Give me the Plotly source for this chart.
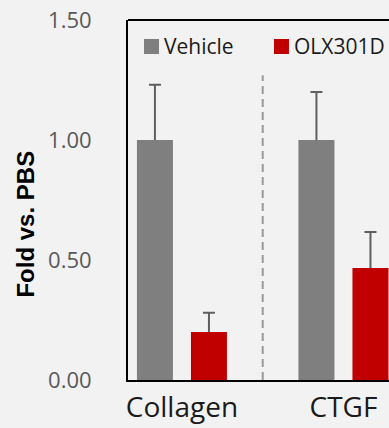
import plotly.graph_objects as go

# Relative expression, fold change vs. PBS
genes = ["Collagen", "CTGF"]
series_names = ["Vehicle", "OLX301D"]
vehicle = [1.00, 1.00]
vehicle_err = [0.23, 0.20]
olx301d = [0.20, 0.467]
olx301d_err = [0.08, 0.15]
y_ticks = [0.0, 0.5, 1.0, 1.5]
y_tick_text = ["0.00", "0.50", "1.00", "1.50"]

x_pos = list(range(len(genes)))

bg = "#f2f2f2"
colors = ["#7f7f7f", "#c00000"]
err_color = "#5f5f5f"

fig = go.Figure()

# Error bars go on transparent bars drawn first, so the solid bars drawn
# afterwards hide the lower half (only the upper whisker stays visible).
for name, vals, errs in [(series_names[0], vehicle, vehicle_err),
                         (series_names[1], olx301d, olx301d_err)]:
    fig.add_trace(go.Bar(
        x=x_pos, y=vals, offsetgroup=name, showlegend=False, hoverinfo="skip",
        marker=dict(color="rgba(0,0,0,0)", line_width=0),
        error_y=dict(type="data", array=errs, arrayminus=[0.03] * len(errs),
                     symmetric=False, color=err_color, thickness=2, width=6)))

for name, vals, col in [(series_names[0], vehicle, colors[0]),
                        (series_names[1], olx301d, colors[1])]:
    fig.add_trace(go.Bar(name=name, x=x_pos, y=vals, offsetgroup=name,
                         marker=dict(color=col, line_width=0), showlegend=False))

# dashed separator between the two gene groups
fig.add_shape(type="line", xref="x", yref="y", x0=0.5, x1=0.5, y0=0, y1=1.27,
              line=dict(color="#999999", width=2, dash="8px,5px"), layer="below")
# top frame line
fig.add_shape(type="line", xref="paper", yref="paper", x0=0, x1=1, y0=1, y1=1,
              line=dict(color="black", width=2))

# legend row: colour swatch + label
plot_w, plot_h = 261, 360
legend_x = [16, 146]  # swatch left edge, px from the plot's left edge
for name, col, lx in zip(series_names, colors, legend_x):
    fig.add_shape(type="rect", xref="paper", yref="paper",
                  x0=lx / plot_w, x1=(lx + 15) / plot_w,
                  y0=1 - 34 / plot_h, y1=1 - 19 / plot_h,
                  fillcolor=col, line_width=0)
    fig.add_annotation(text=name, showarrow=False, xref="paper", yref="paper",
                       x=(lx + 18) / plot_w, y=1 - 26.5 / plot_h,
                       xanchor="left", yanchor="middle",
                       font=dict(family="Open Sans", size=21, color="#1a1a1a"))

fig.add_annotation(text="<b>Fold vs. PBS</b>", textangle=-90, showarrow=False,
                   xref="paper", yref="paper", x=-0.393, y=0.433,
                   xanchor="center", yanchor="middle",
                   font=dict(family="Liberation Sans, Arial", size=24, color="black"))

fig.update_layout(
    width=389, height=428,
    margin=dict(l=128, r=0, t=20, b=48, autoexpand=False),
    paper_bgcolor=bg, plot_bgcolor=bg,
    barmode="group", bargap=0.331, bargroupgap=1/3,
    showlegend=False,
    xaxis=dict(range=[-0.334, 1.282], tickvals=x_pos, ticktext=genes,
               showline=True, linecolor="black", linewidth=2, showgrid=False,
               zeroline=False, ticks="", ticklabelstandoff=1, automargin=False,
               tickfont=dict(family="Open Sans", size=28, color="#1a1a1a")),
    yaxis=dict(range=[0, 1.5], tickvals=y_ticks, ticktext=y_tick_text,
               showline=True, linecolor="black", linewidth=2, showgrid=False,
               zeroline=False, ticks="", ticklabelstandoff=30, automargin=False,
               tickfont=dict(family="Open Sans", size=22, color="#595959")),
)

fig.write_html("out.html")
